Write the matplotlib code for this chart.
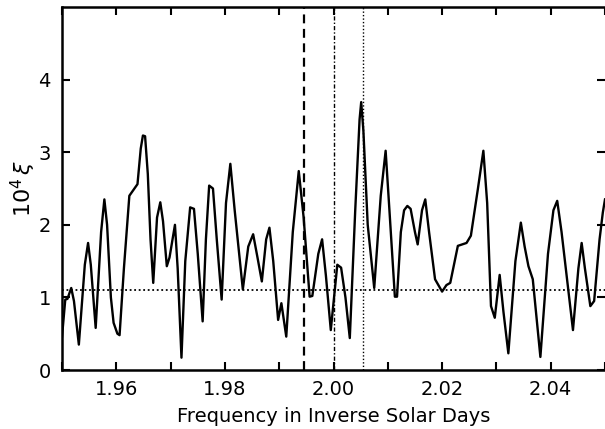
import numpy as np
import matplotlib
matplotlib.use('Agg')
import matplotlib.pyplot as plt

# power spectrum values
freq = [1.9500, 1.9506, 1.9510, 1.9517, 1.9522, 1.9531, 1.9542, 1.9548,
        1.9553, 1.9562, 1.9572, 1.9578, 1.9583, 1.9590, 1.9595, 1.9602,
        1.9606, 1.9614, 1.9624, 1.9639, 1.9645, 1.9649, 1.9653, 1.9658,
        1.9663, 1.9668, 1.9675, 1.9681, 1.9686, 1.9693, 1.9698, 1.9708,
        1.9713, 1.9720, 1.9727, 1.9736, 1.9743, 1.9750, 1.9759, 1.9765,
        1.9771, 1.9778, 1.9785, 1.9794, 1.9802, 1.9810, 1.9818, 1.9833,
        1.9843, 1.9852, 1.9860, 1.9868, 1.9876, 1.9882, 1.9889, 1.9898,
        1.9904, 1.9913, 1.9925, 1.9936, 1.9945, 1.9956, 1.9961, 1.9972,
        1.9979, 1.9986, 1.9995, 2.0007, 2.0014, 2.0022, 2.0030, 2.0040,
        2.0048, 2.0051, 2.0055, 2.0063, 2.0075, 2.0087, 2.0096, 2.0103,
        2.0113, 2.0117, 2.0124, 2.0130, 2.0136, 2.0142, 2.0150, 2.0155,
        2.0163, 2.0169, 2.0176, 2.0187, 2.0200, 2.0208, 2.0215, 2.0229,
        2.0245, 2.0253, 2.0266, 2.0276, 2.0283, 2.0290, 2.0297, 2.0306,
        2.0313, 2.0322, 2.0335, 2.0345, 2.0352, 2.0359, 2.0367, 2.0381,
        2.0395, 2.0405, 2.0412, 2.0420, 2.0441, 2.0451, 2.0457, 2.0463,
        2.0473, 2.0480, 2.0490, 2.0496, 2.0500]
xi = [0.46, 0.97, 0.98, 1.13, 0.95, 0.35, 1.45, 1.75,
      1.45, 0.58, 1.90, 2.35, 2.00, 1.00, 0.65, 0.50,
      0.48, 1.40, 2.40, 2.56, 3.05, 3.23, 3.22, 2.70,
      1.80, 1.20, 2.10, 2.31, 2.05, 1.43, 1.55, 2.00,
      1.40, 0.17, 1.50, 2.24, 2.22, 1.60, 0.67, 1.80,
      2.54, 2.50, 1.80, 0.97, 2.30, 2.84, 2.20, 1.11,
      1.70, 1.87, 1.55, 1.22, 1.80, 1.96, 1.50, 0.69,
      0.92, 0.46, 1.90, 2.74, 2.10, 1.01, 1.02, 1.60,
      1.80, 1.30, 0.55, 1.45, 1.41, 1.00, 0.44, 2.20,
      3.45, 3.69, 3.30, 2.00, 1.13, 2.40, 3.02, 2.20,
      1.01, 1.01, 1.90, 2.20, 2.26, 2.22, 1.90, 1.73,
      2.20, 2.35, 1.90, 1.25, 1.08, 1.17, 1.20, 1.71,
      1.75, 1.85, 2.50, 3.02, 2.30, 0.88, 0.72, 1.31,
      0.80, 0.23, 1.50, 2.03, 1.70, 1.43, 1.25, 0.18,
      1.60, 2.20, 2.33, 1.90, 0.55, 1.40, 1.75, 1.40,
      0.88, 0.95, 1.80, 2.17, 2.35]

noise_level = 1.1
f_dashed = 1.9945     # solar minus annual
f_dashdot = 2.0000    # solar
f_dotted = 2.0055     # sidereal

xticks = [1.96, 1.98, 2.00, 2.02, 2.04]
xticklabels = ['1.96', '1.98', '2.00', '2.02', '2.04']
yticks = [0, 1, 2, 3, 4]

plt.rcParams['font.family'] = ['DejaVu Sans']

fig = plt.figure(figsize=(6.05, 4.29), dpi=100)
ax = fig.add_axes([0.1025, 0.1375, 0.8975, 0.8462])

ax.plot(freq, xi, color='black', linewidth=1.7, solid_joinstyle='round')
ax.axhline(noise_level, color='black', linestyle=(0, (1, 1.5)), linewidth=1.3)
ax.axvline(f_dashed, color='black', linestyle=(0, (4, 2.5)), linewidth=1.6)
ax.axvline(f_dashdot, color='black', linestyle=(0, (3, 1.5, 1, 1.5)), linewidth=1.0)
ax.axvline(f_dotted, color='black', linestyle=(0, (1, 1.5)), linewidth=1.0)

ax.set_xlim(1.95, 2.05)
ax.set_ylim(0, 5)
ax.set_xticks(xticks)
ax.set_xticklabels(xticklabels)
ax.set_xticks(np.arange(1.95, 2.051, 0.01), minor=True)
ax.set_yticks(yticks)

ax.tick_params(axis='both', which='both', direction='in', length=6, width=1.5,
               top=True, right=True, labelsize=14)
ax.tick_params(axis='x', pad=7)
ax.tick_params(axis='y', pad=8)

for side in ['left', 'bottom', 'top']:
    ax.spines[side].set_linewidth(1.8)
ax.spines['right'].set_visible(False)

ax.set_xlabel('Frequency in Inverse Solar Days', fontsize=14, labelpad=6)
ax.set_ylabel(r'$10^4\,\xi$', fontsize=16)
ax.yaxis.set_label_coords(-0.045, 0.5)

fig.savefig('out.png', dpi=100)
